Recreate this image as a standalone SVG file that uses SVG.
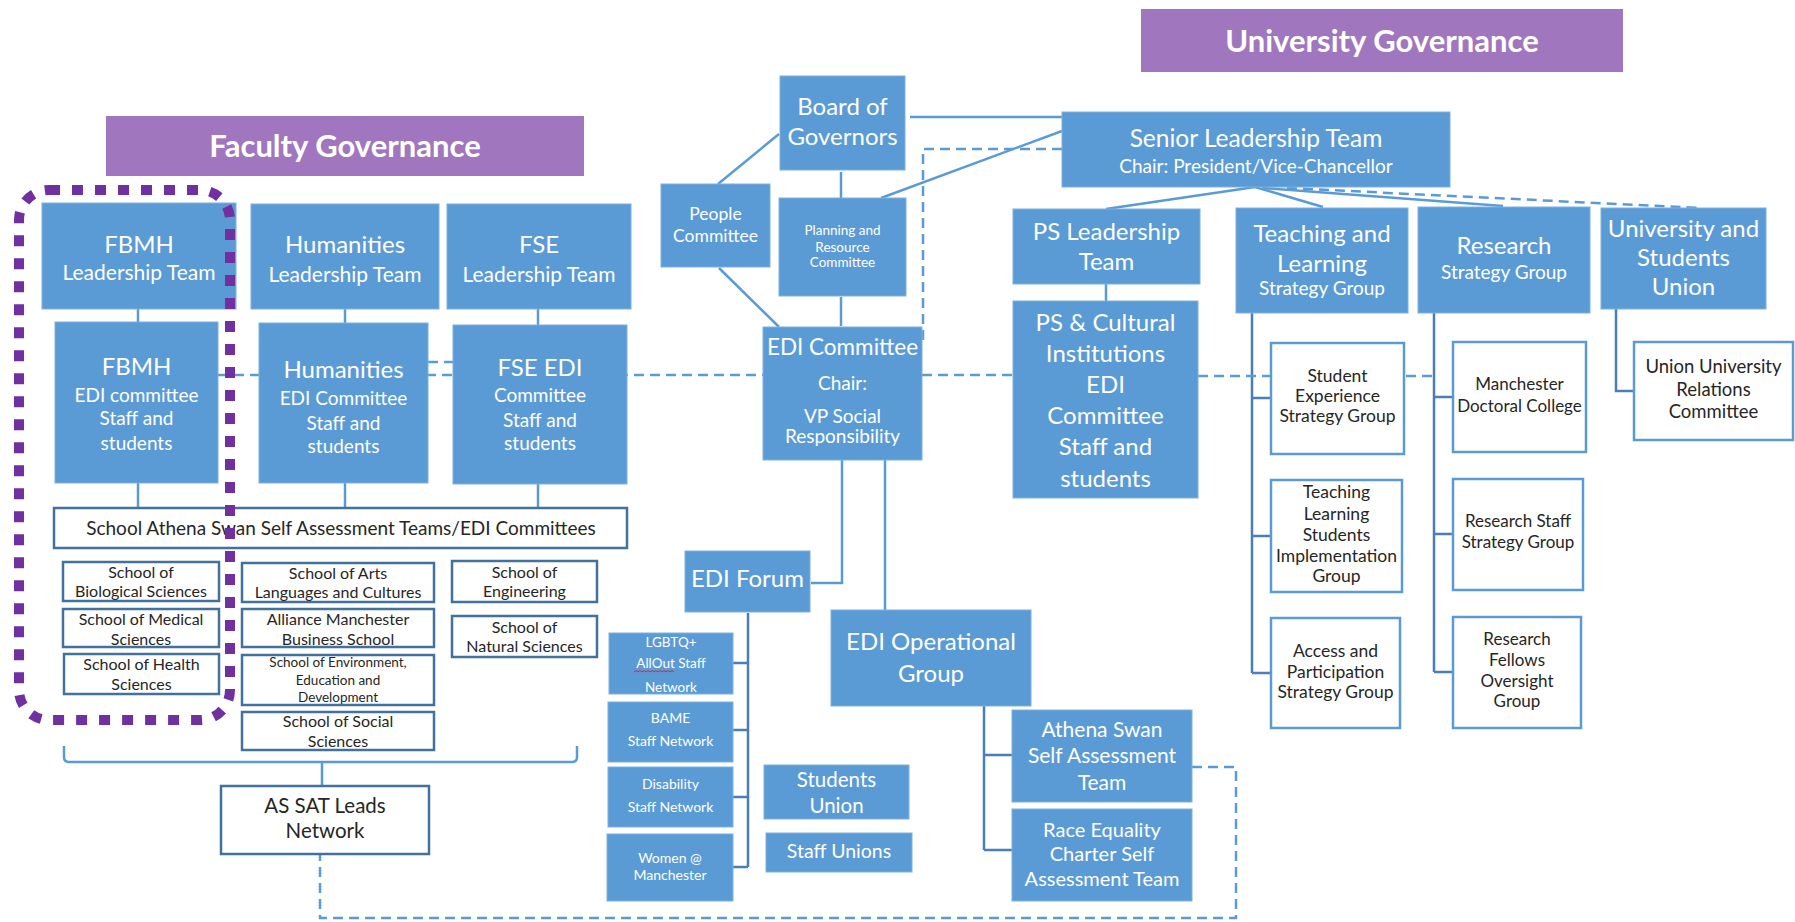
<svg xmlns="http://www.w3.org/2000/svg" width="1795" height="922" viewBox="0 0 1795 922">
  <style>
    text { font-family: Lato, "Open Sans", "Liberation Sans", sans-serif; text-anchor: middle; }
    .hdr { fill: #A077BF; }
    .hdr-t { fill: #ffffff; font-weight: 700; font-size: 31px; }
    .blue { fill: #5B9BD5; stroke: #7DB0E0; stroke-width: 1; }
    .white { fill: #ffffff; stroke: #41719C; stroke-width: 2.5; }
    .white2 { fill: #ffffff; stroke: #5B9BD5; stroke-width: 2.5; }
    .tw { fill: #ffffff; }
    .td { fill: #262626; }
    .ln { fill: none; stroke: #5B9BD5; stroke-width: 2.5; }
    .tree { fill: none; stroke: #4A7EBB; stroke-width: 2.5; }
    .dash { fill: none; stroke: #5B9BD5; stroke-width: 2.5; stroke-dasharray: 10 6; }
    .focus { fill: none; stroke: #7030A0; stroke-width: 10; stroke-dasharray: 11 12; }
    .spell { fill: none; stroke: #E02424; stroke-width: 1; }
  </style>

  <!-- section headers -->
  <g id="faculty-governance">
    <rect class="hdr" x="106" y="116" width="478" height="60"/>
    <text class="hdr-t" x="345" y="157">Faculty Governance</text>
  </g>
  <g id="university-governance">
    <rect class="hdr" x="1141" y="9" width="482" height="63"/>
    <text class="hdr-t" x="1382" y="52">University Governance</text>
  </g>

  <!-- connectors -->
  <g id="connectors">
    <!-- solid links -->
    <path class="ln" d="M910,117 H1062"/>
    <path class="ln" d="M1062,131 L881,198"/>
    <path class="ln" d="M779,134 L718,184"/>
    <path class="ln" d="M719,268 L779,327"/>
    <path class="ln" d="M841,172 V198"/>
    <path class="ln" d="M841,297 V326"/>
    <path class="ln" d="M1255,187 L1106,209"/>
    <path class="ln" d="M1255,187 L1323,207"/>
    <path class="ln" d="M1262,188 L1503,206"/>
    <path class="ln" d="M1106,284 V301"/>
    <path class="ln" d="M138,309 V322 M345,309 V323 M538,309 V325"/>
    <path class="ln" d="M138,483 V508 M345,483 V508 M538,484 V508"/>
    <path class="ln" d="M64,746 V757 Q64,762 69,762 H572 Q577,762 577,757 V746 M322,762 V786"/>
    <path class="ln" d="M842,460 V583 H811"/>
    <path class="ln" d="M885,460 V610"/>
    <!-- trees -->
    <path class="tree" d="M1252,313 V673 M1252,398 H1271 M1252,536 H1271 M1252,673 H1271"/>
    <path class="tree" d="M1434,313 V672 M1434,397 H1453 M1434,534 H1453 M1434,672 H1453"/>
    <path class="tree" d="M1616,309 V391 H1634"/>
    <path class="tree" d="M748,613 V867 M748,663 H733 M748,730 H733 M748,797 H733 M748,867 H733"/>
    <path class="tree" d="M984,706 V850 M984,755 H1012 M984,850 H1012"/>
    <!-- dashed links -->
    <path class="dash" d="M1062,149 H923 V340"/>
    <path class="dash" d="M218,375 H1013"/>
    <path class="dash" d="M428,362 H453"/>
    <path class="dash" d="M1198,376 H1434"/>
    <path class="dash" d="M1287,188 L1700,208"/>
    <path class="dash" d="M1192,767 H1236 V918 H320 V854"/>
  </g>

  <!-- faculty leadership -->
  <g id="fbmh-leadership">
    <rect class="blue" x="42" y="203" width="194" height="106"/>
    <text class="tw" x="139" y="253" font-size="24">FBMH</text>
    <text class="tw" x="139" y="280" font-size="21">Leadership Team</text>
  </g>
  <g id="humanities-leadership">
    <rect class="blue" x="251" y="204" width="188" height="105"/>
    <text class="tw" x="345" y="253" font-size="24">Humanities</text>
    <text class="tw" x="345" y="282" font-size="21">Leadership Team</text>
  </g>
  <g id="fse-leadership">
    <rect class="blue" x="447" y="204" width="184" height="105"/>
    <text class="tw" x="539" y="253" font-size="24">FSE</text>
    <text class="tw" x="539" y="282" font-size="21">Leadership Team</text>
  </g>

  <!-- faculty EDI committees -->
  <g id="fbmh-edi">
    <rect class="blue" x="55" y="322" width="163" height="161"/>
    <text class="tw" x="136.5" y="375" font-size="24">FBMH</text>
    <text class="tw" x="136.5" y="402" font-size="19">EDI committee</text>
    <text class="tw" x="136.5" y="425" font-size="19">Staff and</text>
    <text class="tw" x="136.5" y="450" font-size="19">students</text>
  </g>
  <g id="humanities-edi">
    <rect class="blue" x="259" y="323" width="169" height="160"/>
    <text class="tw" x="343.5" y="378" font-size="24">Humanities</text>
    <text class="tw" x="343.5" y="405" font-size="19">EDI Committee</text>
    <text class="tw" x="343.5" y="430" font-size="19">Staff and</text>
    <text class="tw" x="343.5" y="453" font-size="19">students</text>
  </g>
  <g id="fse-edi">
    <rect class="blue" x="453" y="325" width="174" height="159"/>
    <text class="tw" x="540" y="376" font-size="24">FSE EDI</text>
    <text class="tw" x="540" y="402" font-size="19">Committee</text>
    <text class="tw" x="540" y="427" font-size="19">Staff and</text>
    <text class="tw" x="540" y="450" font-size="19">students</text>
  </g>

  <!-- schools -->
  <g id="school-sat-bar">
    <rect class="white" x="54" y="508" width="573" height="40"/>
    <text class="td" x="341" y="535" font-size="19">School Athena Swan Self Assessment Teams/EDI Committees</text>
  </g>
  <g id="school-bio" font-size="16">
    <rect class="white" x="63" y="562" width="156" height="39"/>
    <text class="td" x="141" y="578">School of</text>
    <text class="td" x="141" y="597">Biological Sciences</text>
  </g>
  <g id="school-medical" font-size="16">
    <rect class="white" x="63" y="609" width="156" height="38"/>
    <text class="td" x="141" y="625">School of Medical</text>
    <text class="td" x="141" y="645">Sciences</text>
  </g>
  <g id="school-health" font-size="16">
    <rect class="white" x="64" y="654" width="155" height="40"/>
    <text class="td" x="141.5" y="670">School of Health</text>
    <text class="td" x="141.5" y="690">Sciences</text>
  </g>
  <g id="school-arts" font-size="16">
    <rect class="white" x="242" y="563" width="192" height="39"/>
    <text class="td" x="338" y="579">School of Arts</text>
    <text class="td" x="338" y="598">Languages and Cultures</text>
  </g>
  <g id="school-business" font-size="16">
    <rect class="white" x="242" y="609" width="192" height="38"/>
    <text class="td" x="338" y="625">Alliance Manchester</text>
    <text class="td" x="338" y="645">Business School</text>
  </g>
  <g id="school-environment" font-size="13.5">
    <rect class="white" x="242" y="655" width="192" height="50"/>
    <text class="td" x="338" y="667">School of Environment,</text>
    <text class="td" x="338" y="685">Education and</text>
    <text class="td" x="338" y="702">Development</text>
  </g>
  <g id="school-social" font-size="16">
    <rect class="white" x="242" y="712" width="192" height="38"/>
    <text class="td" x="338" y="727">School of Social</text>
    <text class="td" x="338" y="747">Sciences</text>
  </g>
  <g id="school-engineering" font-size="16">
    <rect class="white" x="452" y="561" width="145" height="41"/>
    <text class="td" x="524.5" y="578">School of</text>
    <text class="td" x="524.5" y="597">Engineering</text>
  </g>
  <g id="school-natural" font-size="16">
    <rect class="white" x="452" y="616" width="145" height="41"/>
    <text class="td" x="524.5" y="633">School of</text>
    <text class="td" x="524.5" y="652">Natural Sciences</text>
  </g>
  <g id="as-sat-leads" font-size="20.5">
    <rect class="white" x="221" y="786" width="208" height="68"/>
    <text class="td" x="325" y="813">AS SAT Leads</text>
    <text class="td" x="325" y="838">Network</text>
  </g>

  <!-- board and committees -->
  <g id="board-of-governors" font-size="24">
    <rect class="blue" x="780" y="76" width="125" height="94"/>
    <text class="tw" x="842.5" y="115">Board of</text>
    <text class="tw" x="842.5" y="145">Governors</text>
  </g>
  <g id="people-committee" font-size="17.5">
    <rect class="blue" x="661" y="184" width="109" height="83"/>
    <text class="tw" x="715.5" y="220">People</text>
    <text class="tw" x="715.5" y="242">Committee</text>
  </g>
  <g id="planning-resource" font-size="13.5">
    <rect class="blue" x="779" y="198" width="127" height="98"/>
    <text class="tw" x="842.5" y="235">Planning and</text>
    <text class="tw" x="842.5" y="252">Resource</text>
    <text class="tw" x="842.5" y="267">Committee</text>
  </g>
  <g id="edi-committee" font-size="19">
    <rect class="blue" x="763" y="327" width="159" height="133"/>
    <text class="tw" x="842.5" y="355" font-size="22.5">EDI Committee</text>
    <text class="tw" x="842.5" y="390">Chair:</text>
    <text class="tw" x="842.5" y="423">VP Social</text>
    <text class="tw" x="842.5" y="443">Responsibility</text>
  </g>

  <!-- university leadership -->
  <g id="senior-leadership">
    <rect class="blue" x="1062" y="112" width="388" height="75"/>
    <text class="tw" x="1256" y="147" font-size="24.5">Senior Leadership Team</text>
    <text class="tw" x="1256" y="173" font-size="19">Chair: President/Vice-Chancellor</text>
  </g>
  <g id="ps-leadership" font-size="24">
    <rect class="blue" x="1013" y="209" width="187" height="75"/>
    <text class="tw" x="1106.5" y="240">PS Leadership</text>
    <text class="tw" x="1106.5" y="270">Team</text>
  </g>
  <g id="teaching-learning">
    <rect class="blue" x="1236" y="208" width="172" height="105"/>
    <text class="tw" x="1322" y="242" font-size="24">Teaching and</text>
    <text class="tw" x="1322" y="272" font-size="24">Learning</text>
    <text class="tw" x="1322" y="295" font-size="19">Strategy Group</text>
  </g>
  <g id="research-strategy">
    <rect class="blue" x="1418" y="207" width="172" height="106"/>
    <text class="tw" x="1504" y="254" font-size="24">Research</text>
    <text class="tw" x="1504" y="279" font-size="19">Strategy Group</text>
  </g>
  <g id="university-students-union" font-size="24">
    <rect class="blue" x="1601" y="208" width="165" height="101"/>
    <text class="tw" x="1683.5" y="237">University and</text>
    <text class="tw" x="1683.5" y="266">Students</text>
    <text class="tw" x="1683.5" y="295">Union</text>
  </g>
  <g id="ps-cultural-edi" font-size="24">
    <rect class="blue" x="1013" y="301" width="185" height="197"/>
    <text class="tw" x="1105.5" y="331">PS &amp; Cultural</text>
    <text class="tw" x="1105.5" y="362">Institutions</text>
    <text class="tw" x="1105.5" y="393">EDI</text>
    <text class="tw" x="1105.5" y="424">Committee</text>
    <text class="tw" x="1105.5" y="455">Staff and</text>
    <text class="tw" x="1105.5" y="487">students</text>
  </g>

  <!-- strategy sub-groups -->
  <g id="student-experience" font-size="17.5">
    <rect class="white2" x="1271" y="343" width="133" height="111"/>
    <text class="td" x="1337.5" y="382">Student</text>
    <text class="td" x="1337.5" y="402">Experience</text>
    <text class="td" x="1337.5" y="422">Strategy Group</text>
  </g>
  <g id="tl-students-implementation" font-size="17.5">
    <rect class="white2" x="1271" y="480" width="131" height="112"/>
    <text class="td" x="1336.5" y="498">Teaching</text>
    <text class="td" x="1336.5" y="520">Learning</text>
    <text class="td" x="1336.5" y="541">Students</text>
    <text class="td" x="1336.5" y="562">Implementation</text>
    <text class="td" x="1336.5" y="582">Group</text>
  </g>
  <g id="access-participation" font-size="17.5">
    <rect class="white2" x="1271" y="618" width="129" height="110"/>
    <text class="td" x="1335.5" y="657">Access and</text>
    <text class="td" x="1335.5" y="678">Participation</text>
    <text class="td" x="1335.5" y="698">Strategy Group</text>
  </g>
  <g id="doctoral-college" font-size="17">
    <rect class="white2" x="1453" y="342" width="133" height="110"/>
    <text class="td" x="1519.5" y="390">Manchester</text>
    <text class="td" x="1519.5" y="412">Doctoral College</text>
  </g>
  <g id="research-staff" font-size="17">
    <rect class="white2" x="1453" y="479" width="130" height="111"/>
    <text class="td" x="1518" y="527">Research Staff</text>
    <text class="td" x="1518" y="548">Strategy Group</text>
  </g>
  <g id="research-fellows" font-size="17">
    <rect class="white2" x="1453" y="617" width="128" height="111"/>
    <text class="td" x="1517" y="645">Research</text>
    <text class="td" x="1517" y="666">Fellows</text>
    <text class="td" x="1517" y="687">Oversight</text>
    <text class="td" x="1517" y="707">Group</text>
  </g>
  <g id="union-relations" font-size="18.5">
    <rect class="white2" x="1634" y="342" width="159" height="98"/>
    <text class="td" x="1713.5" y="373">Union University</text>
    <text class="td" x="1713.5" y="396">Relations</text>
    <text class="td" x="1713.5" y="418">Committee</text>
  </g>

  <!-- EDI forum and networks -->
  <g id="edi-forum">
    <rect class="blue" x="685" y="551" width="125" height="61"/>
    <text class="tw" x="747.5" y="587" font-size="24">EDI Forum</text>
  </g>
  <g id="lgbtq-network" font-size="13.5">
    <rect class="blue" x="609" y="633" width="124" height="61"/>
    <text class="tw" x="671" y="647">LGBTQ+</text>
    <text class="tw" x="671" y="668">AllOut Staff</text>
    <text class="tw" x="671" y="692">Network</text>
    <path class="spell" d="M634,672 l2,-1.5 l2,1.5 l2,-1.5 l2,1.5 l2,-1.5 l2,1.5 l2,-1.5 l2,1.5 l2,-1.5 l2,1.5 l2,-1.5 l2,1.5 l2,-1.5 l2,1.5 l2,-1.5 l2,1.5 l2,-1.5 l2,1.5 l2,-1.5 l2,1.5"/>
  </g>
  <g id="bame-network" font-size="14">
    <rect class="blue" x="608" y="702" width="125" height="60"/>
    <text class="tw" x="670.5" y="723">BAME</text>
    <text class="tw" x="670.5" y="746">Staff Network</text>
  </g>
  <g id="disability-network" font-size="14">
    <rect class="blue" x="608" y="767" width="125" height="60"/>
    <text class="tw" x="670.5" y="789">Disability</text>
    <text class="tw" x="670.5" y="812">Staff Network</text>
  </g>
  <g id="women-network" font-size="14">
    <rect class="blue" x="607" y="834" width="126" height="67"/>
    <text class="tw" x="670" y="863">Women @</text>
    <text class="tw" x="670" y="880">Manchester</text>
  </g>
  <g id="students-union" font-size="20.5">
    <rect class="blue" x="764" y="765" width="145" height="54"/>
    <text class="tw" x="836.5" y="787">Students</text>
    <text class="tw" x="836.5" y="813">Union</text>
  </g>
  <g id="staff-unions">
    <rect class="blue" x="766" y="833" width="146" height="39"/>
    <text class="tw" x="839" y="858" font-size="19.5">Staff Unions</text>
  </g>

  <!-- operational group -->
  <g id="edi-operational" font-size="24">
    <rect class="blue" x="831" y="610" width="200" height="96"/>
    <text class="tw" x="931" y="650">EDI Operational</text>
    <text class="tw" x="931" y="682">Group</text>
  </g>
  <g id="athena-swan-sat" font-size="21">
    <rect class="blue" x="1012" y="710" width="180" height="92"/>
    <text class="tw" x="1102" y="737">Athena Swan</text>
    <text class="tw" x="1102" y="763">Self Assessment</text>
    <text class="tw" x="1102" y="790">Team</text>
  </g>
  <g id="race-equality-sat" font-size="20">
    <rect class="blue" x="1012" y="809" width="180" height="92"/>
    <text class="tw" x="1102" y="837">Race Equality</text>
    <text class="tw" x="1102" y="861">Charter Self</text>
    <text class="tw" x="1102" y="886">Assessment Team</text>
  </g>

  <!-- FBMH focus outline -->
  <rect id="fbmh-focus" class="focus" x="19" y="190" width="211" height="530" rx="30"/>
</svg>
